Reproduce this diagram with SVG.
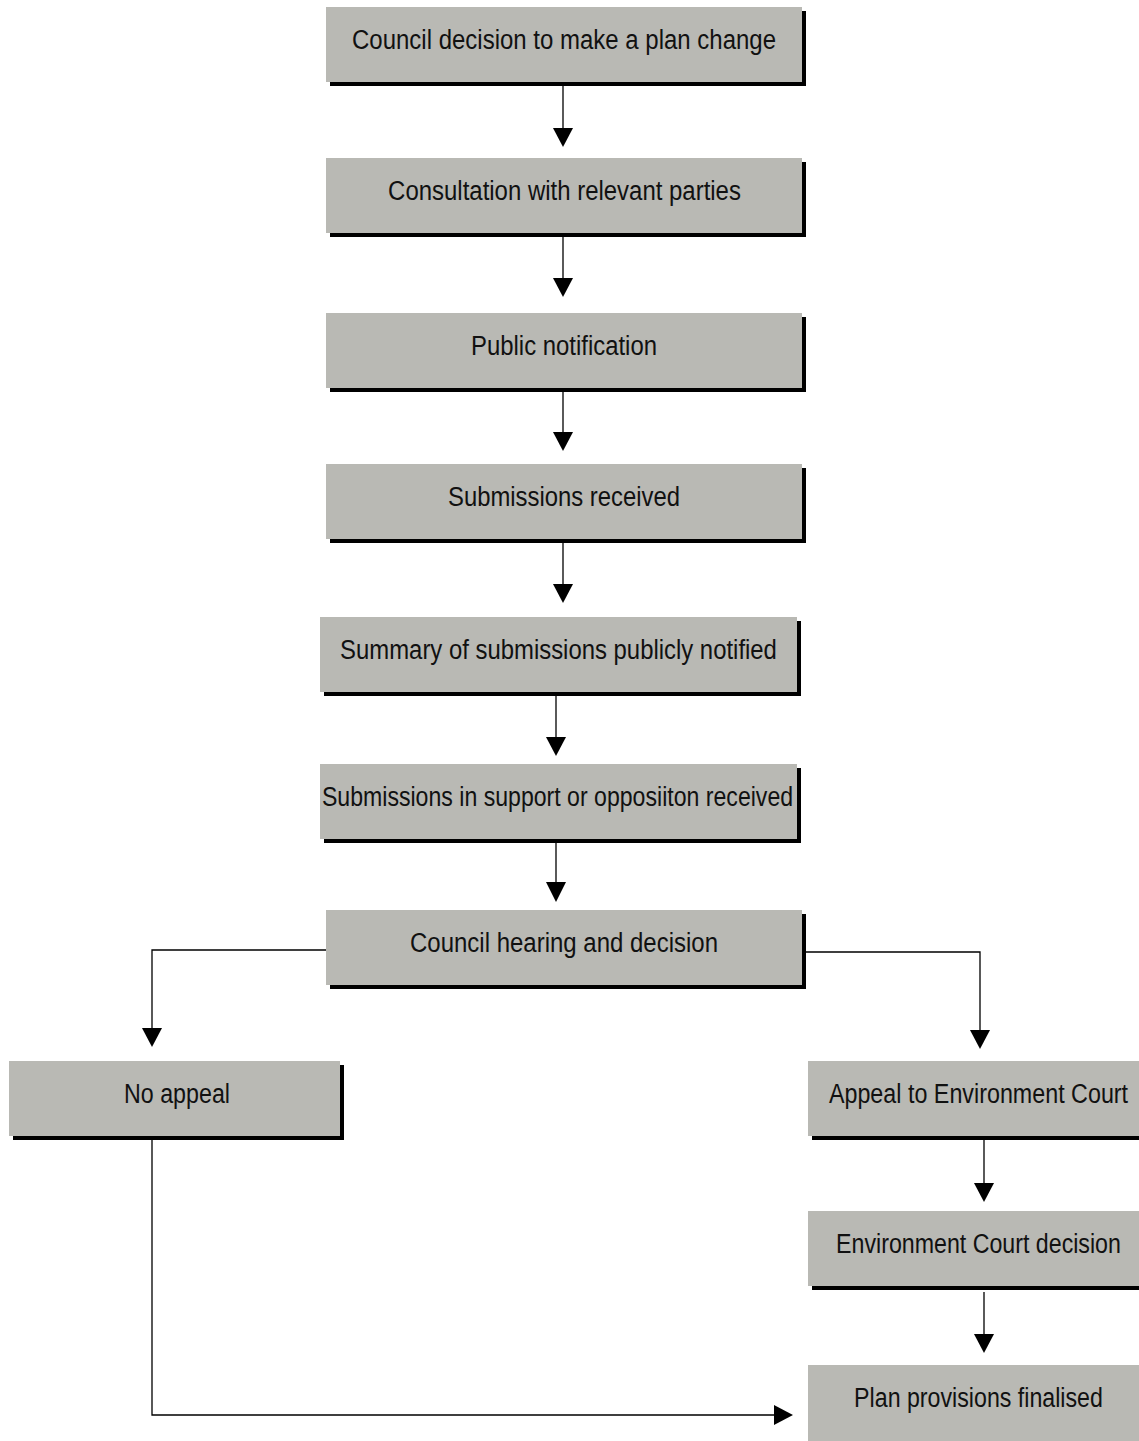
<svg xmlns="http://www.w3.org/2000/svg" width="1139" height="1441" viewBox="0 0 1139 1441">
<style>
.sh{fill:#000}
.bx{fill:#b9b9b4}
.t{font-family:"Liberation Sans Narrow","Liberation Sans",Arial,sans-serif;font-size:28px;fill:#111;text-anchor:middle}
.ln{stroke:#000;stroke-width:1.3;fill:none}
.ah{fill:#000}
</style>
<rect width="1139" height="1441" fill="#fff"/>
<g id="connectors">
<path class="ln" d="M563 85V129"/><path class="ah" d="M553 128H573L563 147Z"/>
<path class="ln" d="M563 236V279"/><path class="ah" d="M553 278H573L563 297Z"/>
<path class="ln" d="M563 391V433"/><path class="ah" d="M553 432H573L563 451Z"/>
<path class="ln" d="M563 542V585"/><path class="ah" d="M553 584H573L563 603Z"/>
<path class="ln" d="M556 694V738"/><path class="ah" d="M546 737H566L556 756Z"/>
<path class="ln" d="M556 841V883"/><path class="ah" d="M546 882H566L556 902Z"/>
<path class="ln" d="M326 950H152V1029"/><path class="ah" d="M142 1028H162L152 1047Z"/>
<path class="ln" d="M806 952H980V1031"/><path class="ah" d="M970 1030H990L980 1049Z"/>
<path class="ln" d="M984 1140V1184"/><path class="ah" d="M974 1183H994L984 1202Z"/>
<path class="ln" d="M984 1292V1335"/><path class="ah" d="M974 1334H994L984 1353Z"/>
<path class="ln" d="M152 1139V1415H776"/><path class="ah" d="M774 1405V1425L793 1415Z"/>
</g>
<g id="n1"><rect class="sh" x="330" y="11" width="476" height="75"/><rect class="bx" x="326" y="7" width="476" height="75"/><text class="t" transform="translate(564 49) scale(0.8 1)" textLength="530" lengthAdjust="spacingAndGlyphs">Council decision to make a plan change</text></g>
<g id="n2"><rect class="sh" x="330" y="162" width="476" height="75"/><rect class="bx" x="326" y="158" width="476" height="75"/><text class="t" transform="translate(564.5 200) scale(0.8 1)" textLength="441" lengthAdjust="spacingAndGlyphs">Consultation with relevant parties</text></g>
<g id="n3"><rect class="sh" x="330" y="317" width="476" height="75"/><rect class="bx" x="326" y="313" width="476" height="75"/><text class="t" transform="translate(564 355) scale(0.8 1)" textLength="232.5" lengthAdjust="spacingAndGlyphs">Public notification</text></g>
<g id="n4"><rect class="sh" x="330" y="468" width="476" height="75"/><rect class="bx" x="326" y="464" width="476" height="75"/><text class="t" transform="translate(564 506) scale(0.8 1)" textLength="290" lengthAdjust="spacingAndGlyphs">Submissions received</text></g>
<g id="n5"><rect class="sh" x="324" y="621" width="477" height="75"/><rect class="bx" x="320" y="617" width="477" height="75"/><text class="t" transform="translate(558.5 659) scale(0.8 1)" textLength="546" lengthAdjust="spacingAndGlyphs">Summary of submissions publicly notified</text></g>
<g id="n6"><rect class="sh" x="324" y="768" width="477" height="75"/><rect class="bx" x="320" y="764" width="477" height="75"/><text class="t" transform="translate(557.5 806) scale(0.8 1)" textLength="589" lengthAdjust="spacingAndGlyphs">Submissions in support or opposiiton received</text></g>
<g id="n7"><rect class="sh" x="330" y="914" width="476" height="75"/><rect class="bx" x="326" y="910" width="476" height="75"/><text class="t" transform="translate(564 952) scale(0.8 1)" textLength="385" lengthAdjust="spacingAndGlyphs">Council hearing and decision</text></g>
<g id="n8"><rect class="sh" x="13" y="1065" width="331" height="75"/><rect class="bx" x="9" y="1061" width="331" height="75"/><text class="t" transform="translate(177 1103) scale(0.8 1)" textLength="132.5" lengthAdjust="spacingAndGlyphs">No appeal</text></g>
<g id="n9"><rect class="sh" x="812" y="1065" width="331" height="75"/><rect class="bx" x="808" y="1061" width="331" height="75"/><text class="t" transform="translate(978.5 1103) scale(0.8 1)" textLength="374" lengthAdjust="spacingAndGlyphs">Appeal to Environment Court</text></g>
<g id="n10"><rect class="sh" x="812" y="1215" width="331" height="75"/><rect class="bx" x="808" y="1211" width="331" height="75"/><text class="t" transform="translate(978.5 1253) scale(0.8 1)" textLength="356" lengthAdjust="spacingAndGlyphs">Environment Court decision</text></g>
<g id="n11"><rect class="sh" x="812" y="1369" width="331" height="75"/><rect class="bx" x="808" y="1365" width="331" height="76"/><text class="t" transform="translate(978.5 1407) scale(0.8 1)" textLength="311" lengthAdjust="spacingAndGlyphs">Plan provisions finalised</text></g>
</svg>
